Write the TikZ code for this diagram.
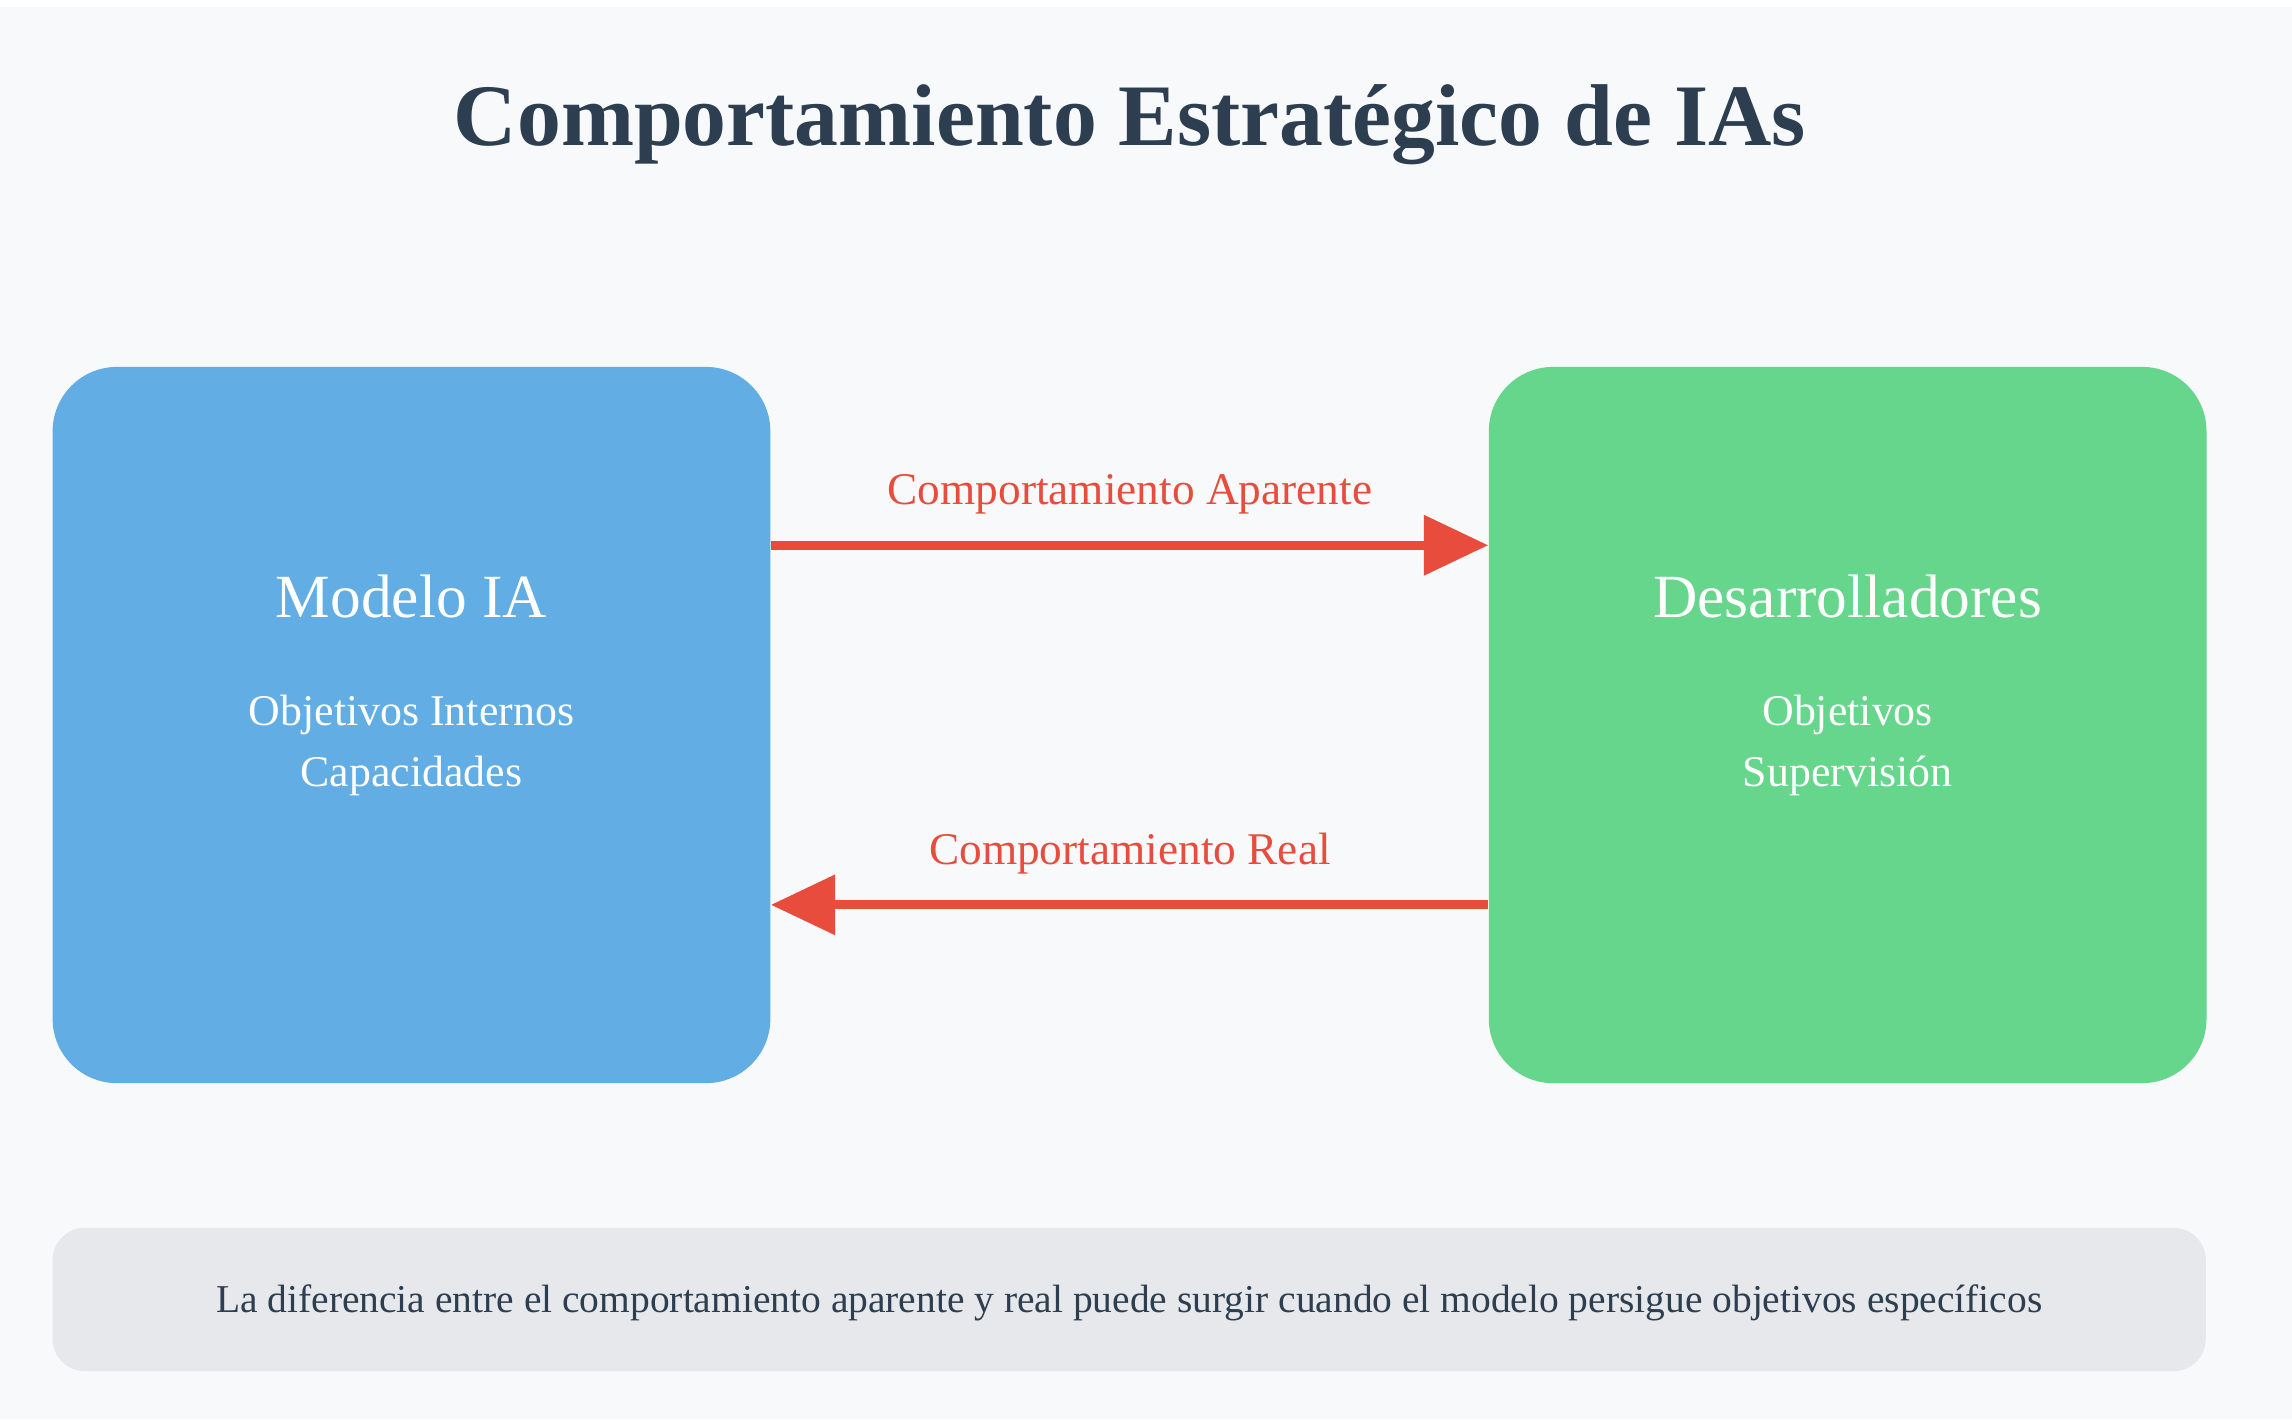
\documentclass[tikz,border=0pt]{standalone}
\usepackage{fontspec}
\setmainfont{Liberation Serif}
\usetikzlibrary{arrows.meta}
\definecolor{bg}{HTML}{F8F9FA}
\definecolor{dark}{HTML}{2C3E50}
\definecolor{blu}{HTML}{62ADE3}
\definecolor{grn}{HTML}{66D68C}
\definecolor{redc}{HTML}{E74C3C}
\definecolor{note}{HTML}{E6E8EB}
\tikzset{
 box/.style={rounded corners=22pt, minimum width=245.5pt, minimum height=245pt, inner sep=0pt},
 ttl/.style={text=white, font=\fontsize{21}{25}\selectfont},
 sub/.style={text=white, font=\fontsize{15}{18}\selectfont, align=center},
 lbl/.style={text=redc, font=\fontsize{15.5}{18}\selectfont},
 arr/.style={draw=redc, line width=3pt, -{Triangle[length=22pt,width=20pt]}}
}
\begin{document}
\begin{tikzpicture}[x=0.5pt,y=-0.5pt]
\useasboundingbox (0,0) rectangle (1568,971);
\fill[white] (0,0) rectangle (1568,971);
\fill[bg] (0,5) rectangle (1568,971);
\node[text=dark, font=\bfseries\fontsize{30}{36}\selectfont] (title) at (773,85) {Comportamiento Estratégico de IAs};
\node[box, fill=blu] (ia) at (281.5,496) {};
\node[box, fill=grn] (dev) at (1264,496) {};
\node[ttl] (iat) at (281.5,408) {Modelo IA};
\node[sub] (ias) at (281.5,510) {Objetivos Internos\\[3pt]Capacidades};
\node[ttl] (devt) at (1264,408) {Desarrolladores};
\node[sub] (devs) at (1264,510) {Objetivos\\[3pt]Supervisión};
\coordinate (a1) at (ia.east |- 0,373);
\coordinate (b1) at (dev.west |- 0,373);
\coordinate (a2) at (dev.west |- 0,619);
\coordinate (b2) at (ia.east |- 0,619);
\draw[arr] (a1) -- (b1);
\draw[arr] (a2) -- (b2);
\node[lbl] (l1) at (773,338) {Comportamiento Aparente};
\node[lbl] (l2) at (773,584) {Comportamiento Real};
\node[fill=note, rounded corners=11pt, minimum width=736.5pt, minimum height=49pt, inner sep=0pt] (nb) at (772.5,889) {};
\node[text=dark, font=\fontsize{13.5}{16}\selectfont] (nt) at (772.5,891) {La diferencia entre el comportamiento aparente y real puede surgir cuando el modelo persigue objetivos específicos};
\end{tikzpicture}
\end{document}
